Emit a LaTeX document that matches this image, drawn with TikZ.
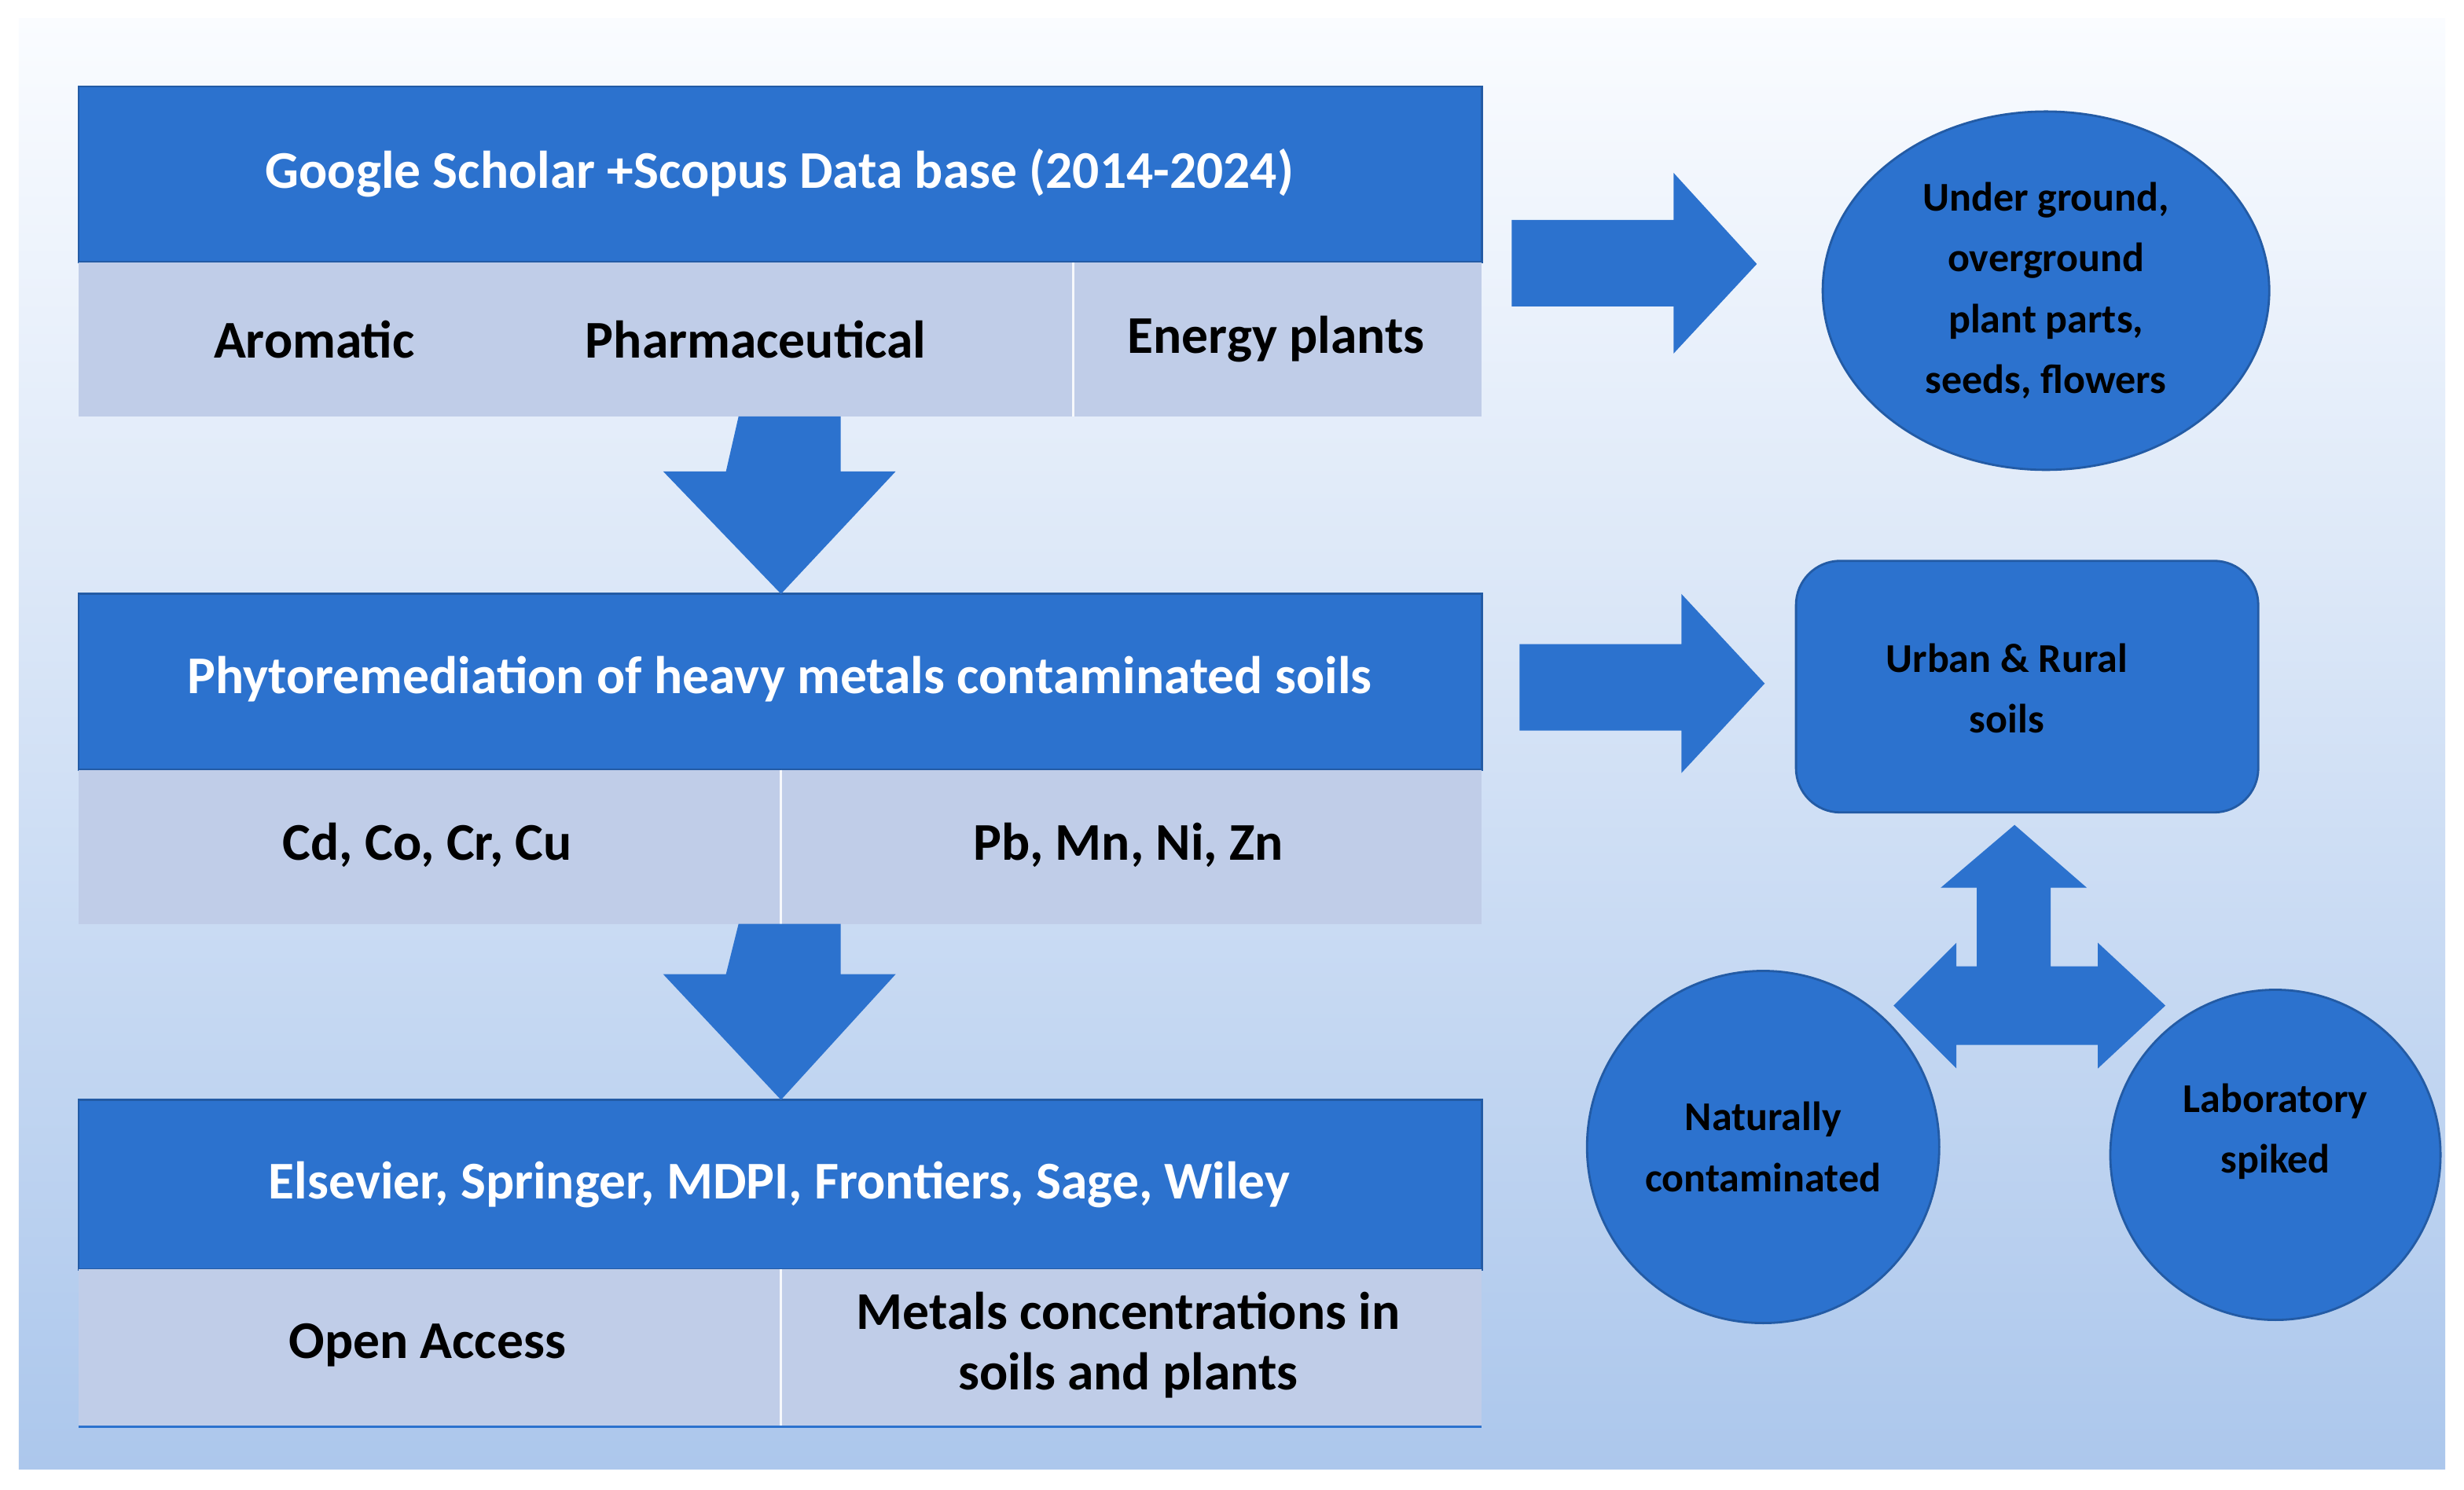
\documentclass[tikz,border=0pt]{standalone}
\usepackage{fontspec}
\setmainfont{Carlito}
\usetikzlibrary{shapes.geometric}
\definecolor{boxblue}{RGB}{44,114,206}
\definecolor{rowblue}{RGB}{192,205,232}
\definecolor{bgtop}{RGB}{250,252,255}
\definecolor{bgbot}{RGB}{172,199,236}
\begin{document}
\begin{tikzpicture}[
	x=0.01cm, y=-0.01cm,
	head/.style={fill=boxblue, draw=boxblue!80!black, line width=0.4pt},
	row/.style={fill=rowblue},
	htext/.style={text=white, font=\bfseries\fontsize{9.6}{11}\selectfont},
	rtext/.style={text=black, font=\bfseries\fontsize{9.6}{11}\selectfont, align=center},
	ctext/.style={text=black, font=\bfseries\fontsize{7.4}{11}\selectfont, align=center},
	blk/.style={fill=boxblue, draw=none},
]
	% background
	\useasboundingbox (0,0) rectangle (1568,948);
	\fill[white] (0,0) rectangle (1568,948);
	\shade[top color=bgtop, bottom color=bgbot] (12,12) rectangle (1556,935);

	% left column boxes
	\fill[head] (50,55) rectangle (943,167);
	\fill[row] (50,167) rectangle (943,265);
	\draw[white!85!rowblue] (683,167) -- (683,265);
	\fill[head] (50,378) rectangle (943,490);
	\fill[row] (50,490) rectangle (943,588);
	\draw[white!85!rowblue] (497,490) -- (497,588);
	\fill[head] (50,700) rectangle (943,808);
	\fill[row] (50,808) rectangle (943,908);
	\draw[white!85!rowblue] (497,808) -- (497,908);
	\draw[boxblue] (50,908) -- (943,908);

	\node[htext] (src) at (496,110) {Google Scholar +Scopus Data base (2014-2024)};
	\node[rtext] (aro) at (200,216) {Aromatic};
	\node[rtext] (pha) at (481,216) {Pharmaceutical};
	\node[rtext] (ene) at (812,216) {Energy plants};
	\node[htext] (phy) at (496,432) {Phytoremediation of heavy metals contaminated soils};
	\node[rtext] (cd) at (272,538) {Cd, Co, Cr, Cu};
	\node[rtext] (pb) at (718,538) {Pb, Mn, Ni, Zn};
	\node[htext] (pub) at (496,754) {Elsevier, Springer, MDPI, Frontiers, Sage, Wiley};
	\node[rtext] (oa) at (272,856) {Open Access};
	\node[rtext] (met) at (718,856) {Metals concentrations in\\soils and plants};

	% down arrows
	\fill[blk] (470,265) -- (535,265) -- (535,300) -- (570,300) -- (497,378)
		-- (422,300) -- (462,300) -- cycle;
	\fill[blk] (470,588) -- (535,588) -- (535,620) -- (570,620) -- (497,700)
		-- (422,620) -- (462,620) -- cycle;

	% right arrows
	\fill[blk] (962,140) -- (1065,140) -- (1065,110) -- (1118,168)
		-- (1065,225) -- (1065,195) -- (962,195) -- cycle;
	\fill[blk] (967,410) -- (1070,410) -- (1070,378) -- (1123,435)
		-- (1070,492) -- (1070,465) -- (967,465) -- cycle;

	% right side shapes
	\node[ellipse, draw=boxblue!80!black, fill=boxblue, minimum width=2.84cm,
		minimum height=2.16cm, ctext] (prt) at (1302,185)
		{Under ground,\\overground\\plant parts,\\seeds, flowers};
	\node[rectangle, rounded corners=8pt, draw=boxblue!80!black, fill=boxblue,
		minimum width=2.94cm, minimum height=1.6cm] (soil) at (1290,437) {};
	\node[ctext] (soilt) at (1277,438) {Urban \& Rural\\soils};
	\fill[blk] (1282,525) -- (1328,565) -- (1305,565) -- (1305,615) -- (1335,615)
		-- (1335,600) -- (1378,640) -- (1335,680) -- (1335,665) -- (1245,665)
		-- (1245,680) -- (1205,640) -- (1245,600) -- (1245,615) -- (1258,615)
		-- (1258,565) -- (1235,565) -- cycle;
	\node[circle, draw=boxblue!80!black, fill=boxblue, minimum size=2.24cm, ctext]
		(nat) at (1122,730) {Naturally\\contaminated};
	\node[circle, draw=boxblue!80!black, fill=boxblue, minimum size=2.1cm]
		(lab) at (1448,735) {};
	\node[ctext] (labt) at (1448,720) {Laboratory\\spiked};
\end{tikzpicture}
\end{document}
